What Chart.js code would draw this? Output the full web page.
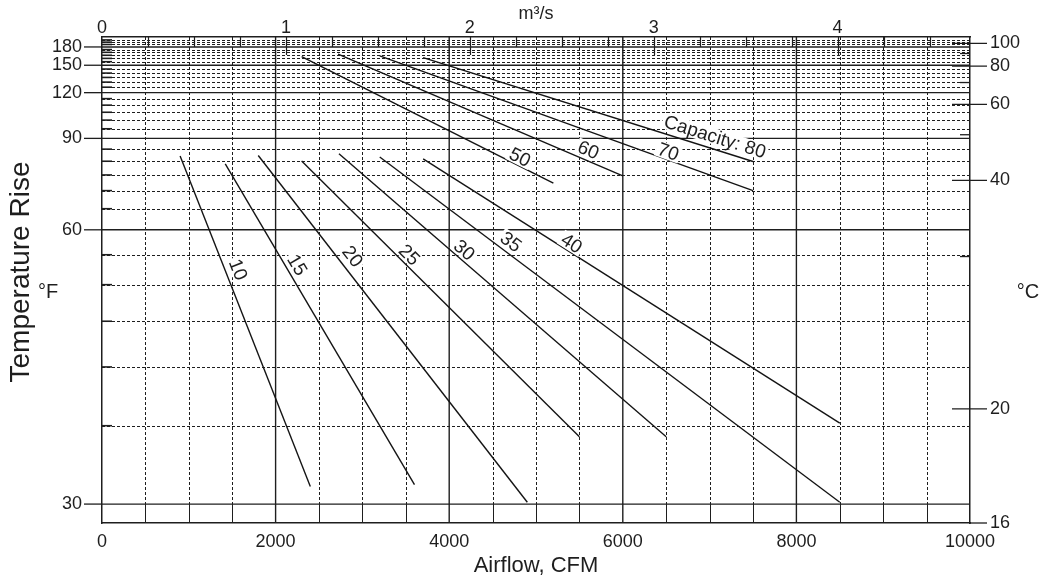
<!DOCTYPE html>
<html>
<head>
<meta charset="utf-8">
<script src="https://cdn.jsdelivr.net/npm/chart.js@4.4.0/dist/chart.umd.min.js"></script>
<style>
html,body{margin:0;padding:0;background:#fff;}
#wrap{width:1050px;height:580px;}
</style>
</head>
<body>
<div id="wrap"><canvas id="c" width="1050" height="580"></canvas></div>
<script>
// ---- axis tick values ----
const cfmTickLabels = [0, 2000, 4000, 6000, 8000, 10000];
const cfmGridLines = [500, 1000, 1500, 2500, 3000, 3500, 4500, 5000, 5500, 6500, 7000, 7500, 8500, 9000, 9500];
const cfmSolidLines = [2000, 4000, 6000, 8000];
const m3sTickLabels = [0, 1, 2, 3, 4];
const m3sMinorTicks = [0.25, 0.5, 0.75, 1.25, 1.5, 1.75, 2.25, 2.5, 2.75, 3.25, 3.5, 3.75, 4.25, 4.5];
const riseTickLabels = [30, 60, 90, 120, 150, 180];
const riseGridLines = [35, 40, 45, 50, 55, 65, 70, 75, 80, 85, 95, 100, 105, 110, 115, 125, 130, 135, 140, 145, 155, 160, 165, 170, 175, 185, 190, 195];
const celsiusTickLabels = [16, 20, 40, 60, 80, 100];
const celsiusMinorTicks = [30, 50, 70, 90];

// ---- capacity lines (CFM, °F rise) ----
const capacityNames = ['10', '15', '20', '25', '30', '35', '40', '50', '60', '70', 'Capacity: 80'];
const lineStartCFM  = [900, 1420, 1800, 2300, 2730, 3200, 3700, 2300, 2720, 3200, 3700];
const lineStartRise = [82.1, 79.0, 82.3, 80.1, 83.0, 81.7, 80.9, 162.8, 166.8, 163.9, 161.2];
const lineEndCFM    = [2400, 3600, 4900, 5500, 6500, 8500, 8500, 5200, 6000, 7500, 7500];
const lineEndRise   = [31.0, 31.1, 30.1, 34.2, 34.2, 30.1, 35.2, 72.3, 74.7, 70.0, 79.9];
const labelCFM  = [1570, 2250, 2888, 3540, 4174, 4712, 5411, 4816, 5603, 6524, 7062];
const labelRise = [52.4, 53.2, 54.7, 55.0, 55.9, 57.5, 57.2, 81.6, 84.7, 83.9, 90.9];

const FAMILY = '"Liberation Sans", Arial, Helvetica, sans-serif';
const INK = '#1e1e1e';
Chart.defaults.font.family = FAMILY;

// Reciprocal (1/x) scale: straight capacity lines
class ReciprocalScale extends Chart.Scale {
  static id = 'reciprocal';
  static defaults = {};
  determineDataLimits() {
    this.min = this.options.min;
    this.max = this.options.max;
  }
  buildTicks() { return []; }
  getLabelForValue(v) { return String(v); }
  configure() {
    super.configure();
    this._i0 = 1 / this.min;
    this._i1 = 1 / this.max;
  }
  getPixelForValue(v) {
    if (v === null || v === undefined || isNaN(v)) return NaN;
    return this.getPixelForDecimal((this._i0 - 1 / v) / (this._i0 - this._i1));
  }
  getValueForPixel(p) {
    const d = this.getDecimalForPixel(p);
    return 1 / (this._i0 - d * (this._i0 - this._i1));
  }
}
Chart.register(ReciprocalScale);

function seg(ctx, x1, y1, x2, y2) {
  ctx.beginPath(); ctx.moveTo(x1, y1); ctx.lineTo(x2, y2); ctx.stroke();
}
const crisp = p => Math.round(p) + 0.5;

const gridPlugin = {
  id: 'gridPlugin',
  beforeDatasetsDraw(chart) {
    const {ctx, chartArea: a, scales} = chart;
    const x = scales.x, y = scales.y, x2 = scales.x2, y2 = scales.y2;
    ctx.save();
    ctx.strokeStyle = INK;
    // dashed horizontal
    ctx.lineWidth = 1;
    ctx.setLineDash([3, 2]);
    riseGridLines.forEach(v => { const p = crisp(y.getPixelForValue(v)); seg(ctx, a.left, p, a.right, p); });
    // dashed vertical (top to 30-line)
    const y30 = y.getPixelForValue(30);
    cfmGridLines.forEach(v => { const p = crisp(x.getPixelForValue(v)); seg(ctx, p, a.top, p, y30); });
    ctx.setLineDash([]);
    // solid short verticals below 30-line
    cfmGridLines.forEach(v => { const p = crisp(x.getPixelForValue(v)); seg(ctx, p, y30, p, a.bottom); });
    // solid majors
    ctx.lineWidth = 1.4;
    riseTickLabels.forEach(v => { const p = y.getPixelForValue(v); seg(ctx, a.left, p, a.right, p); });
    cfmSolidLines.forEach(v => { const p = x.getPixelForValue(v); seg(ctx, p, a.top, p, a.bottom); });
    // left ticks
    ctx.lineWidth = 1.6;
    riseGridLines.forEach(v => { const p = y.getPixelForValue(v); seg(ctx, a.left, p, a.left + 10, p); });
    ctx.lineWidth = 1.3;
    riseTickLabels.forEach(v => { const p = y.getPixelForValue(v); seg(ctx, a.left - 18, p, a.left, p); });
    // top m3/s ticks
    const y180 = y.getPixelForValue(180);
    ctx.lineWidth = 1.2;
    m3sMinorTicks.forEach(v => { const p = crisp(x2.getPixelForValue(v)); seg(ctx, p, a.top, p, y180); });
    m3sTickLabels.forEach(v => { if (v === 0) return; const p = crisp(x2.getPixelForValue(v)); seg(ctx, p, a.top, p, a.top + 18); });
    // right °C ticks
    ctx.lineWidth = 1.3;
    celsiusTickLabels.forEach(v => {
      const p = y2.getPixelForValue(v);
      seg(ctx, v === 16 ? a.right : a.right - 18, p, a.right + 17, p);
    });
    celsiusMinorTicks.forEach(v => { const p = y2.getPixelForValue(v); seg(ctx, a.right - 10, p, a.right, p); });
    ctx.restore();
  },
  afterDatasetsDraw(chart) {
    const {ctx, scales} = chart;
    const x = scales.x, y = scales.y;
    ctx.save();
    ctx.font = '19px ' + FAMILY;
    capacityNames.forEach((t, i) => {
      const x1 = x.getPixelForValue(lineStartCFM[i]), y1 = y.getPixelForValue(lineStartRise[i]);
      const x2p = x.getPixelForValue(lineEndCFM[i]), y2p = y.getPixelForValue(lineEndRise[i]);
      const ang = Math.atan2(y2p - y1, x2p - x1);
      const cx = x.getPixelForValue(labelCFM[i]), cy = y.getPixelForValue(labelRise[i]);
      ctx.save();
      ctx.translate(cx, cy);
      ctx.rotate(ang);
      const w = ctx.measureText(t).width;
      ctx.fillStyle = '#fff';
      ctx.fillRect(-w / 2 - 2, -8, w + 4, 16);
      ctx.fillStyle = INK;
      ctx.textAlign = 'center';
      ctx.textBaseline = 'middle';
      ctx.fillText(t, 0, 1);
      ctx.restore();
    });
    ctx.fillStyle = INK;
    ctx.textAlign = 'center';
    ctx.textBaseline = 'middle';
    ctx.font = '20px ' + FAMILY;
    ctx.fillText('°F', 48, 292);
    ctx.fillText('°C', 1028, 292);
    ctx.save();
    ctx.translate(21, 272);
    ctx.rotate(-Math.PI / 2);
    ctx.font = '28px ' + FAMILY;
    ctx.fillText('Temperature Rise', 0, 0);
    ctx.restore();
    ctx.restore();
  }
};

const tickFont = {family: FAMILY, size: 18};

new Chart(document.getElementById('c').getContext('2d'), {
  type: 'line',
  data: {
    datasets: capacityNames.map((n, i) => ({
      label: n,
      data: [{x: lineStartCFM[i], y: lineStartRise[i]}, {x: lineEndCFM[i], y: lineEndRise[i]}],
      borderColor: '#141414',
      borderWidth: 1.4,
      pointRadius: 0,
      fill: false,
      tension: 0,
      xAxisID: 'x',
      yAxisID: 'y'
    }))
  },
  options: {
    responsive: false,
    animation: false,
    devicePixelRatio: 1,
    layout: {padding: 0},
    plugins: {legend: {display: false}, tooltip: {enabled: false}, title: {display: false}},
    scales: {
      x: {
        type: 'linear', position: 'bottom', min: 0, max: 10000,
        afterBuildTicks: s => { s.ticks = cfmTickLabels.map(v => ({value: v})); },
        afterFit: s => { s.height = 57; },
        ticks: {autoSkip: false, maxRotation: 0, minRotation: 0, padding: 8, font: tickFont, color: INK, callback: v => String(v)},
        grid: {display: false, drawTicks: false},
        border: {display: true, color: INK, width: 1.5},
        title: {display: true, text: 'Airflow, CFM', font: {family: FAMILY, size: 22}, color: INK, padding: {top: 0, bottom: 1}}
      },
      x2: {
        type: 'linear', position: 'top', min: 0, max: 4.72,
        afterBuildTicks: s => { s.ticks = m3sTickLabels.map(v => ({value: v})); },
        afterFit: s => { s.height = 37; },
        ticks: {autoSkip: false, maxRotation: 0, minRotation: 0, padding: -2, font: tickFont, color: INK, callback: v => String(v)},
        grid: {display: false, drawTicks: false},
        border: {display: true, color: INK, width: 1.5},
        title: {display: true, text: 'm³/s', font: {family: FAMILY, size: 18}, color: INK, padding: {top: 3, bottom: 0}}
      },
      y: {
        type: 'reciprocal', position: 'left', min: 29, max: 202,
        afterBuildTicks: s => { s.ticks = riseTickLabels.map(v => ({value: v})); },
        afterFit: s => { s.width = 102; },
        ticks: {autoSkip: false, padding: 20, font: tickFont, color: INK, callback: v => String(v)},
        grid: {display: false, drawTicks: false},
        border: {display: true, color: INK, width: 1.5}
      },
      y2: {
        type: 'reciprocal', position: 'right', min: 16, max: 107.5,
        afterBuildTicks: s => { s.ticks = celsiusTickLabels.map(v => ({value: v})); },
        afterFit: s => { s.width = 80; },
        ticks: {autoSkip: false, padding: 20, font: tickFont, color: INK, callback: v => String(v)},
        grid: {display: false, drawTicks: false},
        border: {display: true, color: INK, width: 1.5}
      }
    }
  },
  plugins: [gridPlugin]
});
</script>
</body>
</html>
